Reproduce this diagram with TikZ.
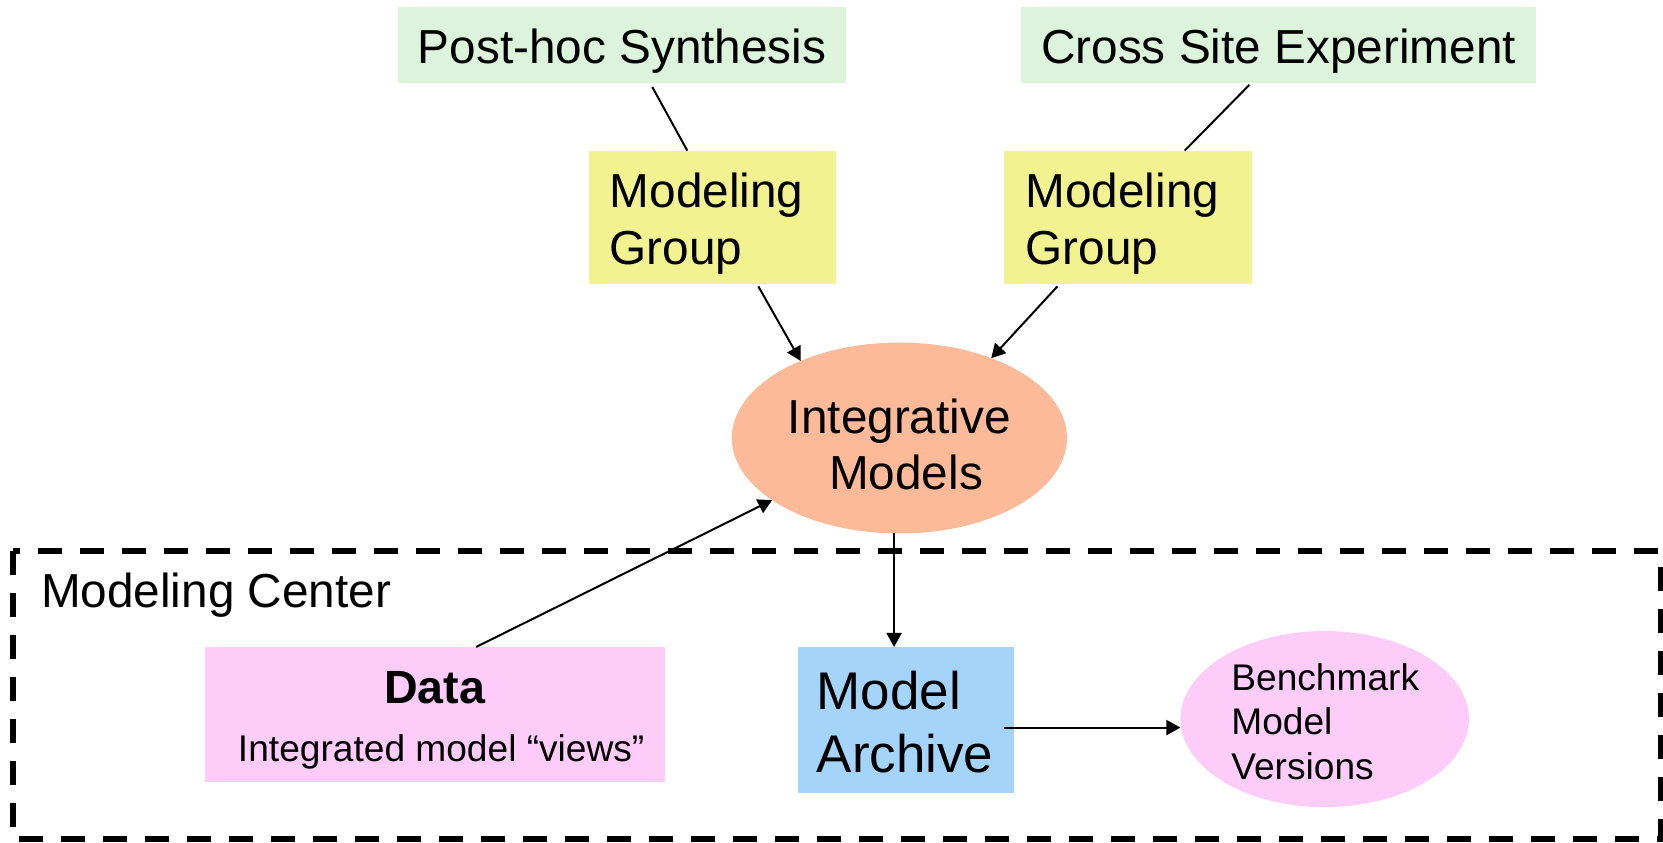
\documentclass[tikz,border=0pt]{standalone}
\usepackage{fontspec}
\setmainfont{Liberation Sans}
\usetikzlibrary{shapes.geometric,calc,arrows.meta}
\definecolor{cgreen}{RGB}{220,243,220}
\definecolor{cyellow}{RGB}{242,242,145}
\definecolor{csalmon}{RGB}{252,186,152}
\definecolor{cblue}{RGB}{164,212,250}
\definecolor{cpink}{RGB}{253,204,248}
\def\px{0.5303pt}
\begin{document}
\begin{tikzpicture}[x=0.5303pt,y=-0.5303pt,
  box/.style={rectangle,inner sep=0pt,outer sep=0pt},
  oval/.style={ellipse,inner sep=0pt,outer sep=0pt},
  conn/.style={line width=1pt},
  arr/.style={conn,-{Triangle[length=7pt,width=7.5pt]}},
  big/.style={font=\fontsize{23.86}{28.1}\selectfont,text height=23.5pt},
  bigger/.style={font=\fontsize{26.5}{31.8}\selectfont,text height=21.1pt},
  small/.style={font=\fontsize{18.56}{22.3}\selectfont},
  frame/.style={line width=2.8pt,dash pattern=on 12pt off 9pt}]
\useasboundingbox (0,0) rectangle (1568,794);

% modeling center frame
\draw[frame] (12.3,519.6) rectangle (1566,791);
\node[anchor=west,font=\fontsize{23.86}{28.1}\selectfont] (mc) at (32,561) {Modeling Center};

% top boxes
\node[box,fill=cgreen,minimum width=423*\px,minimum height=71*\px,big] (ph) at (586.5,42.5) {Post-hoc Synthesis};
\node[box,fill=cgreen,minimum width=485*\px,minimum height=71*\px,big] (cs) at (1205.5,42.5) {Cross Site Experiment};

% modeling groups
\node[box,fill=cyellow,minimum width=233*\px,minimum height=126*\px,big,align=left,text width=193*\px] (mgl) at (671.5,205) {Modeling\\Group};
\node[box,fill=cyellow,minimum width=233*\px,minimum height=126*\px,big,align=left,text width=193*\px] (mgr) at (1063.5,205) {Modeling\\Group};

% integrative models
\node[oval,fill=csalmon,minimum width=316*\px,minimum height=180*\px,font=\fontsize{23.86}{28.1}\selectfont,text height=52pt,align=center] (ig) at (848,413) {Integrative\\\ Models};

% data
\node[box,fill=cpink,minimum width=434*\px,minimum height=127*\px] (data) at (410,673.5) {};
\node[font=\fontsize{23.3}{28}\selectfont\bfseries] (datat) at (410,648) {Data};
\node[small] (datas) at (416,709) {Integrated model “views”};

% model archive
\node[box,fill=cblue,minimum width=204*\px,minimum height=138*\px,bigger,align=left,text width=168*\px] (ma) at (854,679) {Model\\Archive};

% benchmark
\node[oval,fill=cpink,minimum width=272*\px,minimum height=166*\px,small,text height=15.9pt,align=left,text width=176*\px] (bm) at (1249,678) {Benchmark\\Model\\Versions};

% connectors
\draw[conn] ($(ph.south west)+(240,4)$) -- ($(mgl.north west)+(93,0)$);
\draw[conn] ($(cs.south west)+(215,2)$) -- ($(mgr.north west)+(170,0)$);
\draw[arr] ($(mgl.south west)+(160,2)$) -- (ig.142);
\draw[arr] ($(mgr.south west)+(50,2)$) -- (ig.41.5);
\draw[arr] ($(data.north west)+(256,0)$) -- (ig.206);
\draw[arr] ($(ig.south)+(-5,0)$) -- ($(ma.north west)+(91,0)$);
\draw[arr] ($(ma.north east)+(-9,76)$) -- ($(bm.west)+(0,8)$);
\end{tikzpicture}
\end{document}
